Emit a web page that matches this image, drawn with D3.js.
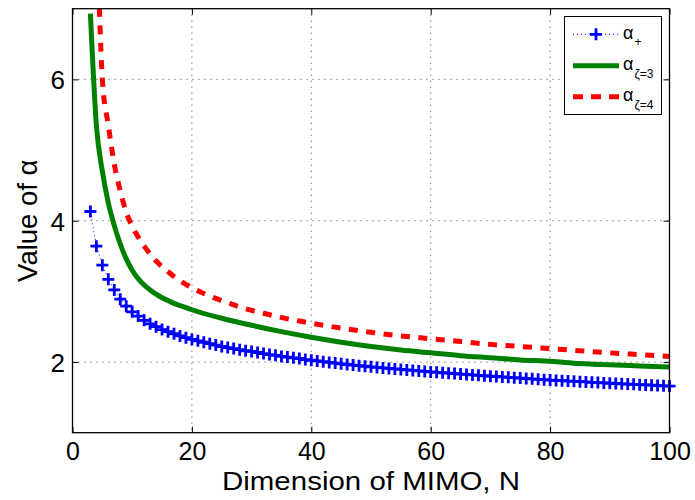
<!DOCTYPE html>
<html>
<head>
<meta charset="utf-8">
<script src="https://cdn.jsdelivr.net/npm/d3@7"></script>
<style>
  html, body { margin: 0; padding: 0; background: #fff; }
  svg text { font-family: "Liberation Sans", Arial, Helvetica, sans-serif; fill: #000; }
</style>
</head>
<body>
<svg id="chart" width="695" height="500"></svg>
<script>
// MIMO dimension N for the α+ series (one marker per integer N)
const dimN = d3.range(3, 101);
const alphaPlus = [
  4.13, 3.64, 3.37, 3.17, 3.02, 2.89, 2.79, 2.71, 2.65, 2.59,
  2.54, 2.50, 2.46, 2.43, 2.40, 2.37, 2.345, 2.32, 2.30, 2.28,
  2.26, 2.24, 2.22, 2.205, 2.19, 2.175, 2.16, 2.15, 2.135, 2.12,
  2.105, 2.095, 2.08, 2.07, 2.06, 2.05, 2.035, 2.025, 2.015, 2.005,
  1.995, 1.985, 1.975, 1.965, 1.957, 1.948, 1.94, 1.932, 1.924, 1.916,
  1.909, 1.902, 1.895, 1.888, 1.881, 1.874, 1.867, 1.860, 1.854, 1.848,
  1.842, 1.836, 1.830, 1.824, 1.818, 1.812, 1.806, 1.800, 1.795, 1.789,
  1.784, 1.778, 1.773, 1.767, 1.762, 1.756, 1.751, 1.745, 1.740, 1.736,
  1.731, 1.727, 1.722, 1.718, 1.713, 1.709, 1.704, 1.700, 1.696, 1.692,
  1.688, 1.684, 1.680, 1.676, 1.672, 1.668, 1.664, 1.660
];

// α for ζ = 3
const zeta3N = [3, 4, 5, 6, 7, 8, 9, 10, 11, 12, 13, 14, 15, 16, 17, 18, 19, 20,
  25, 30, 35, 40, 45, 50, 55, 60, 65, 70, 75, 80, 85, 90, 95, 100];
const alphaZeta3 = [6.93, 5.35, 4.70, 4.25, 3.93, 3.67, 3.46, 3.30, 3.18, 3.09, 3.02, 2.96, 2.91, 2.87, 2.83, 2.80, 2.77, 2.74,
  2.62, 2.52, 2.43, 2.35, 2.28, 2.22, 2.17, 2.13, 2.09, 2.06, 2.03, 2.01, 1.98, 1.96, 1.945, 1.93];

// α for ζ = 4
const zeta4N = [4, 5, 6, 7, 8, 9, 10, 11, 12, 13, 14, 15, 16, 17, 18, 19, 20,
  22, 24, 26, 28, 30, 32, 34, 36, 38, 40, 45, 50, 55, 60, 65, 70, 75, 80, 85, 90, 95, 100];
const alphaZeta4 = [8.5, 6.0, 5.35, 4.80, 4.42, 4.12, 3.92, 3.77, 3.64, 3.53, 3.43, 3.35, 3.28, 3.21, 3.15, 3.10, 3.05,
  2.97, 2.90, 2.84, 2.78, 2.73, 2.69, 2.65, 2.61, 2.58, 2.55, 2.48, 2.42, 2.37, 2.33, 2.29, 2.25, 2.22, 2.19, 2.16, 2.13, 2.105, 2.08];

const xTicks = [0, 20, 40, 60, 80, 100];
const yTicks = [2, 4, 6];

const margin = { left: 72.5, right: 25.5, top: 8.7, bottom: 67.3 };
const W = 695, H = 500;
const iw = W - margin.left - margin.right;
const ih = H - margin.top - margin.bottom;

const svg = d3.select("#chart");
const g = svg.append("g").attr("transform", `translate(${margin.left},${margin.top})`);

const x = d3.scaleLinear().domain([0, 100]).range([0, iw]);
const y = d3.scaleLinear().domain([1, 7]).range([ih, 0]);

// dotted grid
const grid = g.append("g").attr("class", "grid");
grid.selectAll("line.vx").data(xTicks.filter(t => t > 0 && t < 100)).enter().append("line")
  .attr("x1", d => x(d)).attr("x2", d => x(d)).attr("y1", 0).attr("y2", ih)
  .attr("stroke", "#444").attr("stroke-width", 1).attr("stroke-dasharray", "1,5");
grid.selectAll("line.hy").data(yTicks).enter().append("line")
  .attr("x1", 0).attr("x2", iw).attr("y1", d => y(d)).attr("y2", d => y(d))
  .attr("stroke", "#444").attr("stroke-width", 1).attr("stroke-dasharray", "1,5");

// clipped data layer
svg.append("defs").append("clipPath").attr("id", "plotClip")
  .append("rect").attr("x", 0).attr("y", 0).attr("width", iw).attr("height", ih);
const plot = g.append("g").attr("clip-path", "url(#plotClip)");

const curve = d3.line().x(d => x(d[0])).y(d => y(d[1])).curve(d3.curveMonotoneX);

// α ζ=4 : red dashed
plot.append("path")
  .datum(zeta4N.map((n, i) => [n, alphaZeta4[i]]))
  .attr("d", curve)
  .attr("fill", "none").attr("stroke", "#ff0000").attr("stroke-width", 5)
  .attr("stroke-dasharray", "9,8.5");

// α ζ=3 : green solid
plot.append("path")
  .datum(zeta3N.map((n, i) => [n, alphaZeta3[i]]))
  .attr("d", curve)
  .attr("fill", "none").attr("stroke", "#008000").attr("stroke-width", 5);

// α+ : blue dotted line with plus markers
const plusData = dimN.map((n, i) => [n, alphaPlus[i]]);
plot.append("path")
  .datum(plusData)
  .attr("d", d3.line().x(d => x(d[0])).y(d => y(d[1])))
  .attr("fill", "none").attr("stroke", "#0000ff").attr("stroke-width", 1)
  .attr("stroke-dasharray", "1,3");
const plusSym = "M-6,0H6M0,-6V6";
g.append("g").selectAll("path").data(plusData).enter().append("path")
  .attr("transform", d => `translate(${x(d[0])},${y(d[1])})`)
  .attr("d", plusSym)
  .attr("fill", "none").attr("stroke", "#0000ff").attr("stroke-width", 2.8);

// axes with inward ticks
const xAxis = g.append("g").attr("transform", `translate(0,${ih})`)
  .call(d3.axisBottom(x).tickValues(xTicks).tickSize(-6).tickPadding(10).tickFormat(d3.format("d")));
const xAxisTop = g.append("g")
  .call(d3.axisTop(x).tickValues(xTicks).tickSize(-6).tickFormat(""));
const yAxis = g.append("g")
  .call(d3.axisLeft(y).tickValues(yTicks).tickSize(-6).tickPadding(7.5).tickFormat(d3.format("d")));
const yAxisRight = g.append("g").attr("transform", `translate(${iw},0)`)
  .call(d3.axisRight(y).tickValues(yTicks).tickSize(-6).tickFormat(""));

[xAxis, xAxisTop, yAxis, yAxisRight].forEach(a => {
  a.select(".domain").remove();
  a.selectAll(".tick line").attr("stroke", "#000").attr("stroke-width", 1);
  a.selectAll(".tick text").style("font-size", "26px");
});
xAxis.selectAll(".tick text").style("font-size", "25px");
yAxis.selectAll(".tick text").attr("dy", "0.36em");

// axes box
g.append("rect").attr("x", 0).attr("y", 0).attr("width", iw).attr("height", ih)
  .attr("fill", "none").attr("stroke", "#000").attr("stroke-width", 1.3);

// axis titles
svg.append("text")
  .attr("x", margin.left + iw / 2).attr("y", 489.5)
  .attr("text-anchor", "middle").style("font-size", "25.5px")
  .attr("textLength", 298).attr("lengthAdjust", "spacingAndGlyphs")
  .text("Dimension of MIMO, N");
svg.append("text")
  .attr("transform", `translate(36.5,${margin.top + ih / 2}) rotate(-90)`)
  .attr("text-anchor", "middle").style("font-size", "27.5px")
  .text("Value of α");

// legend
const legend = svg.append("g");
legend.append("rect").attr("x", 564.5).attr("y", 16.5).attr("width", 97).attr("height", 98)
  .attr("fill", "#fff").attr("stroke", "#000").attr("stroke-width", 1);

const rows = [
  { y: 34.3, sub: "+", kind: "plus" },
  { y: 65.7, sub: "ζ=3", kind: "solid" },
  { y: 96.7, sub: "ζ=4", kind: "dash" }
];
rows.forEach(r => {
  const ln = legend.append("line").attr("x1", 573).attr("x2", 619).attr("y1", r.y).attr("y2", r.y)
    .attr("fill", "none");
  if (r.kind === "plus") {
    ln.attr("stroke", "#0000ff").attr("stroke-width", 1).attr("stroke-dasharray", "1,3");
    legend.append("path").attr("transform", `translate(596,${r.y})`).attr("d", plusSym)
      .attr("fill", "none").attr("stroke", "#0000ff").attr("stroke-width", 2.8);
  } else if (r.kind === "solid") {
    ln.attr("stroke", "#008000").attr("stroke-width", 5);
  } else {
    ln.attr("stroke", "#ff0000").attr("stroke-width", 5).attr("stroke-dasharray", "10,8");
  }
  legend.append("text").attr("x", 623).attr("y", r.y + 4.5).style("font-size", "18px").text("α");
  legend.append("text").attr("x", 634.5).attr("y", r.y + 12).style("font-size", "12px").text(r.sub);
});
</script>
</body>
</html>
